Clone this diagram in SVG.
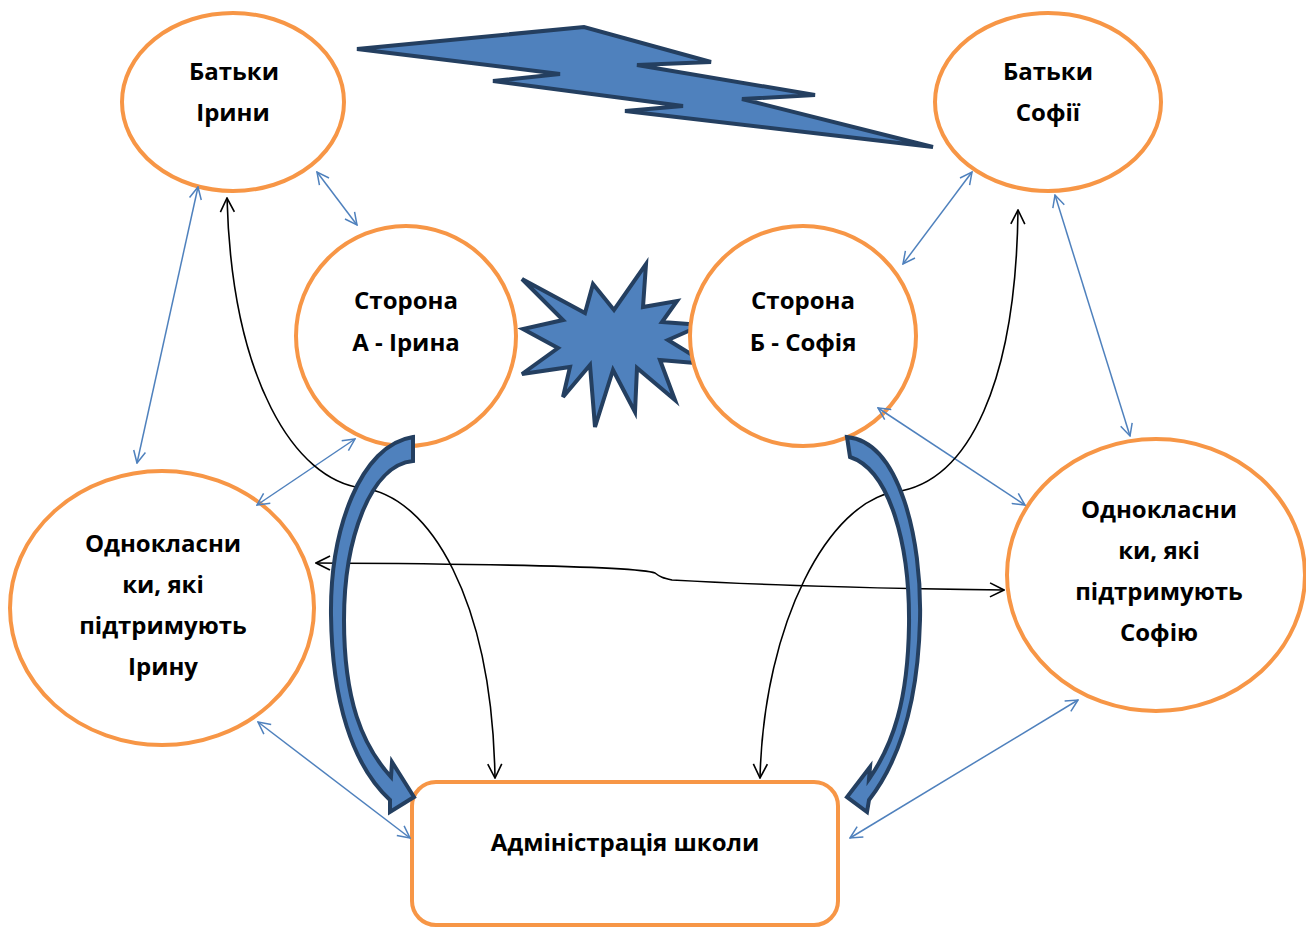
<svg xmlns="http://www.w3.org/2000/svg" width="1306" height="928" viewBox="0 0 1306 928">
<style>
.node{fill:#fff;stroke:#F79646;stroke-width:4}
.lbl{font-family:"Open Sans","Liberation Sans",sans-serif;font-weight:bold;font-size:24px;fill:#000;text-anchor:middle}
.blue{fill:none;stroke:#4F81BD;stroke-width:1.5;marker-start:url(#ab);marker-end:url(#ab)}
.blk{fill:none;stroke:#000;stroke-width:1.6;marker-start:url(#ak);marker-end:url(#ak)}
.shape{fill:#4F81BD;stroke:#243F60;stroke-width:4;stroke-linejoin:miter}
</style>
<defs>
<marker id="ab" viewBox="0 0 14 14" refX="13" refY="7" markerWidth="14" markerHeight="14" markerUnits="userSpaceOnUse" orient="auto-start-reverse"><path d="M1,1 L13,7 L1,13" fill="none" stroke="#4F81BD" stroke-width="1.5"/></marker>
<marker id="ak" viewBox="0 0 16 16" refX="15" refY="8" markerWidth="16" markerHeight="16" markerUnits="userSpaceOnUse" orient="auto-start-reverse"><path d="M1,1 L15,8 L1,15" fill="none" stroke="#000" stroke-width="1.6"/></marker>
</defs>
<rect width="1306" height="928" fill="#fff"/>

<g id="lightning"><polygon class="shape" points="357,49 584,27 711,62 637,65 815,95 742,99 933,147 625,111 683,106 493,81 560,74"/></g>
<g id="explosion"><polygon class="shape" points="522,279 585,313 593,284 614,310 646,264 643,307 677,301 662,322 702,325 668,340 707,364 660,360 675,400 637,368 635,412 613,370 595,427 590,365 563,397 570,367 522,374 558,348 523,329 563,320"/></g>

<g id="n-batky-iryny"><ellipse class="node" cx="233" cy="102" rx="111" ry="89"/><text class="lbl" x="234" y="80">Батьки</text><text class="lbl" x="233" y="121">Ірини</text></g>
<g id="n-batky-sofii"><ellipse class="node" cx="1048" cy="102" rx="113" ry="89"/><text class="lbl" x="1048" y="80">Батьки</text><text class="lbl" x="1048" y="121">Софії</text></g>
<g id="n-storona-a"><ellipse class="node" cx="406" cy="336" rx="110" ry="110"/><text class="lbl" x="406" y="309">Сторона</text><text class="lbl" x="406" y="351">А - Ірина</text></g>
<g id="n-storona-b"><ellipse class="node" cx="803" cy="336" rx="113" ry="110"/><text class="lbl" x="803" y="309">Сторона</text><text class="lbl" x="803" y="351">Б - Софія</text></g>
<g id="n-odn-left"><ellipse class="node" cx="162" cy="608" rx="152" ry="137"/><text class="lbl" x="163" y="552">Однокласни</text><text class="lbl" x="163" y="593">ки, які</text><text class="lbl" x="163" y="634">підтримують</text><text class="lbl" x="163" y="675">Ірину</text></g>
<g id="n-odn-right"><ellipse class="node" cx="1156" cy="575" rx="149" ry="136"/><text class="lbl" x="1159" y="518">Однокласни</text><text class="lbl" x="1159" y="559">ки, які</text><text class="lbl" x="1159" y="600">підтримують</text><text class="lbl" x="1159" y="641">Софію</text></g>
<g id="n-admin"><rect class="node" x="412" y="782" width="426" height="143" rx="24" ry="24"/><text class="lbl" x="625" y="851">Адміністрація школи</text></g>

<g id="connectors">
<path class="blue" d="M317,172 L357,225"/>
<path class="blue" d="M198,187 L137,463"/>
<path class="blue" d="M355,439 L257,505"/>
<path class="blue" d="M258,722 L410,838"/>
<path class="blue" d="M972,172 L903,264"/>
<path class="blue" d="M1055,195 L1130,436"/>
<path class="blue" d="M878,408 L1025,505"/>
<path class="blue" d="M1078,700 L850,838"/>
<path class="blk" d="M227,198 C232,380 295,480 362,488 C430,496 492,600 495,778"/>
<path class="blk" d="M1018,210 C1016,380 970,482 895,492 C830,502 764,620 760,778"/>
<path class="blk" d="M316,563 C500,564 640,567 655,573 C660,577 663,578 672,580 C760,585 900,589 1004,590"/>
<path class="shape" d="M413,437 C360,445 330,530 331,615 C332,700 352,765 390,800 L390,812 L414,797 L392,762 L391,777 C362,745 344,700 344,620 C344,540 370,465 413,461 Z"/>
<path class="shape" d="M847,437 C900,442 922,540 920,620 C918,700 900,760 869,800 L867,812 L847,797 L870,767 L869,779 C893,745 908,700 909,625 C910,545 890,470 850,457 Z"/>
</g>
</svg>
